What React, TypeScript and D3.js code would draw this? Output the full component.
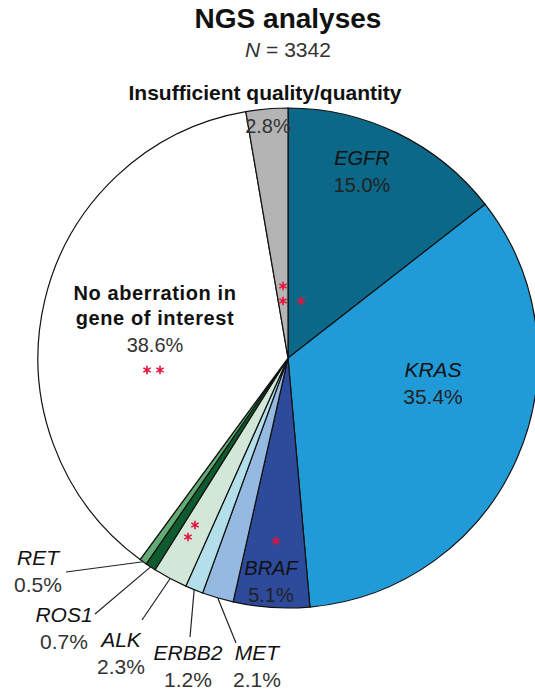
import * as d3 from 'd3';

// slice order, clockwise from 12 o'clock
const categories = [
  'EGFR', 'KRAS', 'BRAF', 'MET', 'ERBB2', 'ALK', 'ROS1', 'RET',
  'No aberration in gene of interest', 'Insufficient quality/quantity',
];
const shares = [15.0, 35.4, 5.1, 2.1, 1.2, 2.3, 0.7, 0.5, 38.6, 2.8];
const sliceColors = [
  '#0b6889', '#219bd7', '#2d4a9b', '#95b9e1', '#b3dfeb',
  '#d2e7d7', '#0d5b2e', '#62ab75', '#ffffff', '#b4b4b4',
];
const totalN = 3342;

const W = 535;
const H = 694;
const cx = 288;
const cy = 358;
const R = 250;
const FONT = "'Liberation Sans', Arial, sans-serif";

interface Slice { name: string; value: number; color: string }
const slices: Slice[] = categories.map((name, i) => ({ name, value: shares[i], color: sliceColors[i] }));

// labels placed inside the slice
const innerLabels: Record<string, { x: number; y: number; size: number }> = {
  EGFR: { x: 362, y: 165, size: 20 },
  KRAS: { x: 433, y: 377, size: 21 },
  BRAF: { x: 271, y: 575, size: 20 },
};

// small slices labelled outside with a leader line
const outerLabels: Record<string, { x: number; y: number; lx: number; ly: number }> = {
  RET: { x: 38, y: 565, lx: 66, ly: 572 },
  ROS1: { x: 64, y: 622, lx: 95, ly: 614 },
  ALK: { x: 121, y: 647, lx: 142, ly: 620 },
  ERBB2: { x: 188, y: 660, lx: 190, ly: 637 },
  MET: { x: 257, y: 660, lx: 236, ly: 643 },
};

// red asterisks (significance markers)
const stars = [
  { x: 283, y: 286 }, { x: 283, y: 301 }, { x: 301, y: 301 },
  { x: 276, y: 541 },
  { x: 195, y: 525 }, { x: 188, y: 537 },
  { x: 147, y: 370 }, { x: 160, y: 370 },
];

export default function App() {
  const pie = d3.pie<Slice>().sort(null).value(d => d.value);
  const arcs = pie(slices);
  const arc = d3.arc<d3.PieArcDatum<Slice>>().innerRadius(0).outerRadius(R);
  const star = d3.symbol(d3.symbolAsterisk, 50)() || '';

  return (
    <svg width={W} height={H} style={{ position: 'absolute', left: 0, top: 0, background: '#fff' }}>
      <text x={cx} y={28} textAnchor="middle" fontFamily={FONT} fontWeight="bold" fontSize={28} fill="#111">
        NGS analyses
      </text>
      <text x={cx} y={57} textAnchor="middle" fontFamily={FONT} fontSize={21} fill="#333">
        <tspan fontStyle="italic">N</tspan> = {totalN}
      </text>

      <g transform={`translate(${cx},${cy})`}>
        {arcs.map(a => (
          <path key={a.data.name} d={arc(a) || ''} fill={a.data.color} stroke="#111" strokeWidth={1.2} />
        ))}
      </g>

      {arcs.map(a => {
        const lab = outerLabels[a.data.name];
        if (!lab) return null;
        const mid = (a.startAngle + a.endAngle) / 2;
        const sx = cx + R * Math.sin(mid);
        const sy = cy - R * Math.cos(mid);
        return (
          <g key={`o-${a.data.name}`}>
            <line x1={sx} y1={sy} x2={lab.lx} y2={lab.ly} stroke="#222" strokeWidth={1.2} />
            <text x={lab.x} y={lab.y} textAnchor="middle" fontFamily={FONT} fontSize={21} fill="#111" fontStyle="italic">
              {a.data.name}
            </text>
            <text x={lab.x} y={lab.y + 27} textAnchor="middle" fontFamily={FONT} fontSize={21} fill="#333">
              {a.data.value.toFixed(1)}%
            </text>
          </g>
        );
      })}

      {arcs.map(a => {
        const lab = innerLabels[a.data.name];
        if (!lab) return null;
        return (
          <g key={`i-${a.data.name}`} fontFamily={FONT} fontSize={lab.size} textAnchor="middle">
            <text x={lab.x} y={lab.y} fontStyle="italic" fill="#111">{a.data.name}</text>
            <text x={lab.x} y={lab.y + 27} fill="#222">{a.data.value.toFixed(1)}%</text>
          </g>
        );
      })}

      {/* no aberration */}
      <g fontFamily={FONT} textAnchor="middle" fill="#111">
        <text x={155} y={300} fontSize={20} fontWeight="bold" letterSpacing={0.6}>No aberration in</text>
        <text x={155} y={325} fontSize={20} fontWeight="bold" letterSpacing={0.6}>gene of interest</text>
        <text x={155} y={352} fontSize={20} fill="#333">{shares[8].toFixed(1)}%</text>
      </g>

      {/* insufficient */}
      <g fontFamily={FONT} textAnchor="middle">
        <text x={265} y={100} fontSize={21} fontWeight="bold" fill="#111">Insufficient quality/quantity</text>
        <text x={268} y={133} fontSize={20} fill="#333">{shares[9].toFixed(1)}%</text>
      </g>

      {stars.map((s, i) => (
        <path key={i} d={star} transform={`translate(${s.x},${s.y})`} fill="none" stroke="#e8103a" strokeWidth={1.6} />
      ))}
    </svg>
  );
}
